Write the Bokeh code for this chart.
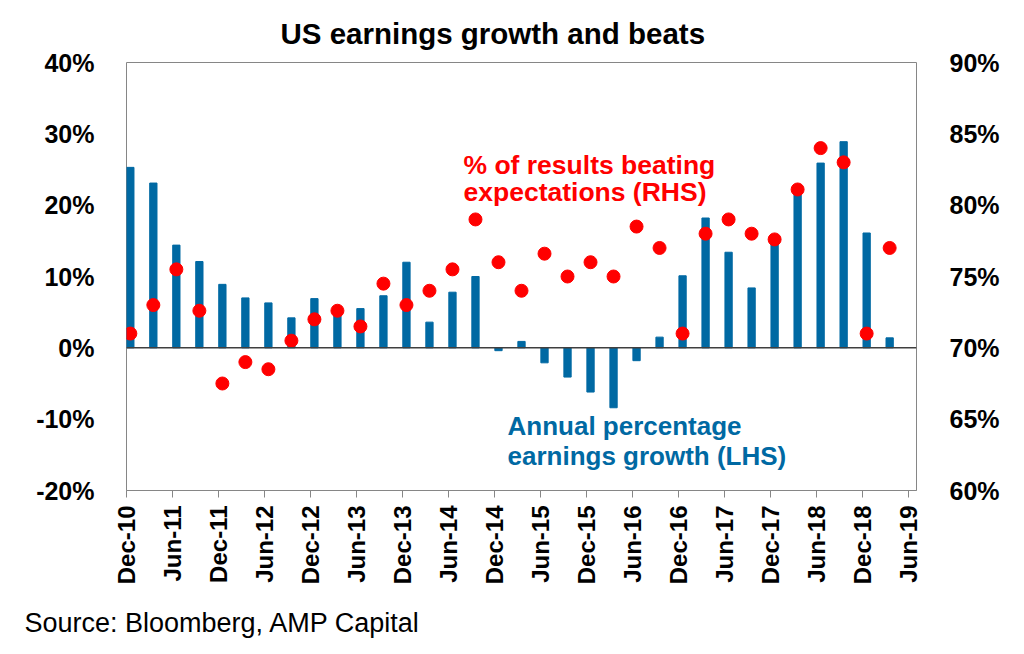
import math
from bokeh.plotting import figure
from bokeh.models import Range1d, LinearAxis, FixedTicker, PrintfTickFormatter, Span, Label, ColumnDataSource, Title
from bokeh.embed import file_html
from bokeh.resources import INLINE

# ---- data ----
quarters = ["Dec-10", "Mar-11", "Jun-11", "Sep-11", "Dec-11", "Mar-12", "Jun-12", "Sep-12",
            "Dec-12", "Mar-13", "Jun-13", "Sep-13", "Dec-13", "Mar-14", "Jun-14", "Sep-14",
            "Dec-14", "Mar-15", "Jun-15", "Sep-15", "Dec-15", "Mar-16", "Jun-16", "Sep-16",
            "Dec-16", "Mar-17", "Jun-17", "Sep-17", "Dec-17", "Mar-18", "Jun-18", "Sep-18",
            "Dec-18", "Mar-19"]
growth = [25.3, 23.1, 14.4, 12.1, 8.9, 7.0, 6.3, 4.2,
          6.9, 5.1, 5.5, 7.3, 12.0, 3.6, 7.8, 10.0,
          -0.4, 0.9, -2.1, -4.1, -6.2, -8.4, -1.8, 1.5,
          10.1, 18.2, 13.4, 8.4, 14.9, 21.9, 25.9, 28.9,
          16.1, 1.4]
beats = [71.0, 73.0, 75.5, 72.6, 67.5, 69.0, 68.5, 70.5,
         72.0, 72.6, 71.5, 74.5, 73.0, 74.0, 75.5, 79.0,
         76.0, 74.0, 76.6, 75.0, 76.0, 75.0, 78.5, 77.0,
         71.0, 78.0, 79.0, 78.0, 77.6, 81.1, 84.0, 83.0,
         71.0, 77.0]
tick_labels = ["Dec-10", "Jun-11", "Dec-11", "Jun-12", "Dec-12", "Jun-13", "Dec-13", "Jun-14",
               "Dec-14", "Jun-15", "Dec-15", "Jun-16", "Dec-16", "Jun-17", "Dec-17", "Jun-18",
               "Dec-18", "Jun-19"]
lhs_ticks = [-20, -10, 0, 10, 20, 30, 40]
rhs_ticks = [60, 65, 70, 75, 80, 85, 90]

BLUE = "#0069A3"
RED = "#FF0000"
GRAY = "#868686"
FONT = "Liberation Sans"

# months since Dec-10 (quarterly points sit mid-month)
xs = [3 * i + 0.5 for i in range(len(quarters))]
src = ColumnDataSource(dict(x=xs, growth=growth, beats=beats, q=quarters))

p = figure(width=1008, height=638, x_range=Range1d(0, 103), y_range=Range1d(-20, 40),
           output_backend="svg", toolbar_location=None,
           min_border_left=126, min_border_right=92, min_border_top=62, min_border_bottom=146)
p.extra_y_ranges = {"rhs": Range1d(60, 90)}
p.background_fill_color = "white"
p.border_fill_color = "white"
p.outline_line_color = GRAY
p.outline_line_width = 1
p.xgrid.grid_line_color = None
p.ygrid.grid_line_color = None

# title
p.title.text = "US earnings growth and beats"
p.title.align = "left"
p.title.offset = 154
p.title.standoff = 26
p.title.text_font = FONT
p.title.text_font_size = "29.5px"
p.title.text_font_style = "bold"
p.title.text_color = "black"

p.vbar(x="x", top="growth", bottom=0, width=0.95, color=BLUE, source=src)
p.add_layout(Span(location=0, dimension="width", line_color="#3f3f3f", line_width=1.5))
p.scatter(x="x", y="beats", y_range_name="rhs", size=13, color=RED, source=src)

# left axis
ly = p.yaxis[0]
ly.ticker = FixedTicker(ticks=lhs_ticks)
ly.formatter = PrintfTickFormatter(format="%d%%")
ly.axis_line_color = None
ly.major_tick_line_color = None
ly.minor_tick_line_color = None
ly.major_label_standoff = 26
ly.major_label_text_font = FONT
ly.major_label_text_font_size = "25px"
ly.major_label_text_font_style = "bold"
ly.major_label_text_color = "black"

# right axis
ry = LinearAxis(y_range_name="rhs", ticker=FixedTicker(ticks=rhs_ticks),
                formatter=PrintfTickFormatter(format="%d%%"))
ry.axis_line_color = None
ry.major_tick_line_color = None
ry.minor_tick_line_color = None
ry.major_label_standoff = 27
ry.major_label_text_font = FONT
ry.major_label_text_font_size = "25px"
ry.major_label_text_font_style = "bold"
ry.major_label_text_color = "black"
p.add_layout(ry, "right")

# bottom axis
bx = p.xaxis[0]
bx.ticker = FixedTicker(ticks=[6 * i for i in range(len(tick_labels))])
bx.major_label_overrides = {6 * i: lab for i, lab in enumerate(tick_labels)}
bx.major_label_orientation = math.pi / 2
bx.axis_line_color = GRAY
bx.major_tick_line_color = GRAY
bx.major_tick_in = 0
bx.major_tick_out = 7
bx.minor_tick_line_color = None
bx.major_label_standoff = 8
bx.major_label_text_font = FONT
bx.major_label_text_font_size = "24px"
bx.major_label_text_font_style = "bold"
bx.major_label_text_color = "black"
# blank axis label used only as vertical spacing above the source note
bx.axis_label = " "
bx.axis_label_text_font_size = "10px"
bx.axis_label_standoff = 3

# source note below the axis
src_title = Title(text="Source: Bloomberg, AMP Capital", align="left", offset=-102, standoff=2,
                  text_font=FONT, text_font_size="27px", text_font_style="normal",
                  text_color="black")
p.add_layout(src_title, "below")

def lab(text, x, y, size, color, style="bold", align="left"):
    p.add_layout(Label(x=x, y=y, x_units="screen", y_units="screen", text=text,
                       text_font=FONT, text_font_size=size, text_font_style=style,
                       text_color=color, text_align=align, text_baseline="alphabetic"))

lab("% of results beating", 337, 326, "26.5px", RED)
lab("expectations (RHS)", 337, 299, "26.5px", RED)
lab("Annual percentage", 381, 65, "26px", BLUE)
lab("earnings growth (LHS)", 381, 35, "26px", BLUE)

open("out.html", "w").write(file_html(p, INLINE))
